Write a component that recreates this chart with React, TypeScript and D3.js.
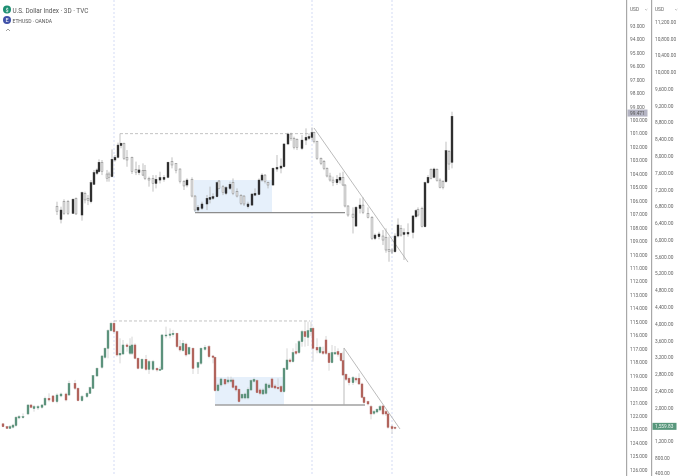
import * as d3 from 'd3';

const WIDTH = 680;
const HEIGHT = 476;

// U.S. Dollar Index, 3D candles (the scale is inverted on the chart)
const usdDays = [
  0, 4, 7, 11, 16, 19, 25, 28, 31, 34,
  37, 40, 42, 45, 50, 52, 55, 58, 61, 64,
  67, 70, 75, 79, 82, 86, 88, 92, 96, 99,
  103, 107, 111, 115, 119, 123, 127, 130, 135, 138,
  141, 145, 150, 153, 156, 160, 162, 166, 169, 173,
  176, 180, 184, 187, 191, 195, 198, 202, 205, 208,
  211, 216, 220, 224, 227, 231, 234, 237, 240, 245,
  249, 252, 255, 257, 260, 264, 267, 270, 273, 276,
  280, 283, 286, 288, 291, 296, 299, 303, 306, 311,
  315, 318, 322, 326, 329, 332, 335, 338, 341, 344,
  347, 351, 356, 359, 361, 365, 368, 371, 374, 377,
  380, 383, 386, 389, 392, 395,
];
const usdOpen = [
  106.43, 107.37, 106.06, 106.06, 106.93, 105.81, 107.05, 105.44, 105.81, 106.06,
  104.77, 103.95, 103.83, 103.13, 104.0, 104.0, 104.2, 102.96, 102.76, 101.89,
  101.72, 102.76, 102.76, 103.65, 103.9, 103.75, 103.75, 104.32, 104.32, 104.7,
  104.45, 104.4, 104.25, 103.08, 103.21, 103.63, 104.57, 104.82, 104.4, 105.64,
  106.68, 106.55, 106.23, 105.88, 105.81, 105.69, 104.52, 104.95, 105.44, 105.07,
  104.62, 105.32, 105.59, 105.64, 106.43, 106.31, 105.57, 105.52, 104.45, 104.08,
  104.65, 104.82, 103.63, 103.56, 103.46, 101.77, 101.03, 101.35, 101.43, 102.1,
  101.48, 101.35, 101.28, 100.93, 101.6, 102.84, 103.09, 103.58, 104.15, 104.45,
  104.65, 104.45, 104.25, 104.82, 106.38, 106.98, 107.87, 106.56, 106.31, 106.93,
  107.23, 108.79, 108.66, 108.61, 108.71, 109.6, 109.65, 109.78, 108.61, 108.04,
  108.49, 108.46, 108.34, 107.17, 106.63, 106.55, 107.92, 104.65, 103.65, 104.25,
  103.65, 104.45, 104.57, 104.57, 102.34, 103.13,
];
const usdClose = [
  106.8, 106.68, 106.93, 106.93, 105.88, 106.97, 105.39, 105.93, 105.98, 104.65,
  103.9, 103.7, 103.13, 103.83, 104.32, 104.25, 102.91, 102.76, 101.85, 101.72,
  102.84, 102.96, 103.83, 103.9, 103.7, 104.08, 104.32, 104.45, 104.7, 104.4,
  104.27, 104.25, 103.13, 103.33, 103.75, 104.57, 104.89, 104.45, 105.64, 106.68,
  106.48, 106.23, 105.81, 105.74, 105.69, 104.65, 105.07, 105.39, 105.02, 104.77,
  105.44, 105.64, 106.19, 106.23, 106.23, 105.49, 105.44, 104.45, 104.08, 104.57,
  104.82, 103.58, 103.51, 103.41, 101.77, 101.03, 101.35, 102.02, 102.02, 101.48,
  101.28, 101.23, 100.93, 101.6, 102.84, 103.21, 103.58, 104.15, 104.45, 104.65,
  104.4, 104.25, 104.82, 106.38, 107.05, 107.23, 106.48, 106.31, 106.88, 107.23,
  108.79, 108.54, 108.46, 108.91, 109.65, 109.78, 109.8, 108.61, 107.79, 108.54,
  108.36, 108.34, 107.12, 106.73, 107.05, 107.92, 104.65, 104.25, 104.32, 103.63,
  104.5, 104.99, 104.99, 102.27, 103.26, 99.71,
];
const usdHigh = [
  107.05, 107.67, 107.05, 107.05, 106.97, 107.05, 107.47, 106.18, 106.31, 106.18,
  104.82, 104.08, 103.9, 104.08, 104.57, 104.57, 104.25, 103.08, 102.84, 102.09,
  102.96, 103.46, 104.0, 104.08, 104.08, 104.15, 104.45, 104.94, 105.31, 105.07,
  104.7, 104.57, 104.32, 103.58, 103.95, 104.7, 105.19, 104.99, 105.74, 106.8,
  106.8, 106.68, 106.68, 106.18, 105.93, 105.74, 105.14, 105.57, 105.57, 105.19,
  105.57, 105.74, 106.31, 106.38, 106.56, 106.38, 105.64, 105.57, 104.57, 104.7,
  105.07, 104.87, 103.83, 103.95, 103.51, 101.85, 101.53, 102.17, 102.22, 102.22,
  101.85, 101.48, 101.48, 101.72, 102.96, 103.34, 103.71, 104.25, 104.57, 104.9,
  104.82, 104.7, 104.9, 106.48, 107.18, 108.42, 107.92, 106.93, 106.98, 107.3,
  108.91, 108.91, 108.86, 109.28, 109.85, 110.52, 109.95, 109.85, 108.71, 108.66,
  110.39, 108.66, 108.78, 107.3, 107.17, 107.97, 107.97, 104.74, 104.4, 104.32,
  104.57, 105.07, 105.14, 104.65, 103.7, 103.58,
];
const usdLow = [
  106.06, 106.43, 105.88, 105.93, 105.81, 105.74, 105.31, 105.31, 105.56, 104.45,
  103.7, 103.58, 102.91, 102.96, 103.7, 103.83, 102.17, 102.59, 101.67, 101.67,
  101.67, 102.22, 102.71, 103.08, 103.33, 103.21, 103.33, 104.2, 104.08, 104.08,
  103.83, 104.08, 103.08, 102.76, 103.21, 103.58, 104.45, 104.32, 104.25, 105.56,
  106.31, 106.06, 105.56, 104.94, 105.44, 104.57, 104.45, 104.82, 104.9, 104.57,
  104.33, 105.07, 105.49, 105.57, 106.06, 105.44, 105.07, 104.33, 103.95, 104.0,
  104.57, 103.51, 102.59, 102.84, 101.72, 100.93, 100.93, 101.23, 101.35, 101.11,
  100.61, 100.98, 100.54, 100.86, 101.53, 102.77, 102.96, 103.51, 103.91, 104.2,
  104.08, 103.91, 103.83, 104.75, 106.31, 106.48, 106.38, 105.81, 105.74, 106.48,
  107.13, 108.42, 108.29, 108.17, 108.04, 108.66, 109.53, 108.41, 107.3, 107.79,
  108.04, 107.67, 107.05, 106.63, 106.48, 106.43, 104.57, 104.08, 103.58, 103.53,
  103.58, 104.32, 104.45, 101.6, 102.22, 99.37,
];

// ETHUSD, 3D candles
const ethDays = [
  0, 4, 7, 10, 13, 16, 20, 25, 28, 31,
  35, 39, 42, 46, 50, 54, 58, 63, 66, 72,
  75, 79, 84, 87, 90, 94, 99, 102, 105, 108,
  111, 114, 117, 120, 124, 127, 129, 132, 135, 139,
  143, 146, 150, 154, 157, 159, 163, 167, 170, 174,
  177, 180, 183, 186, 190, 195, 198, 202, 206, 210,
  212, 215, 218, 222, 225, 228, 230, 233, 236, 239,
  242, 245, 248, 251, 254, 257, 260, 263, 266, 269,
  272, 275, 278, 281, 284, 287, 290, 293, 296, 299,
  302, 305, 308, 310, 314, 317, 320, 323, 326, 329,
  332, 335, 338, 340, 343, 346, 350, 353, 356, 359,
  361, 365, 368, 371, 374, 377, 380, 383, 385, 389,
  392,
];
const ethOpen = [
  1620, 1550, 1510, 1540, 1580, 1760, 1775, 1855, 2069, 1982,
  1998, 2013, 2069, 2228, 2284, 2149, 2284, 2331, 2307, 2586,
  2466, 2172, 2268, 2347, 2466, 2760, 2967, 3205, 3420, 3841,
  4016, 3817, 3261, 3285, 3500, 3301, 3301, 3500, 3182, 2943,
  3158, 2919, 2919, 2943, 2904, 2919, 3714, 3730, 3746, 3778,
  3460, 3365, 3523, 3285, 3420, 2967, 3062, 3396, 3460, 3237,
  3205, 2411, 2546, 2681, 2617, 2633, 2665, 2522, 2443, 2236,
  2236, 2236, 2427, 2633, 2649, 2427, 2331, 2347, 2482, 2689,
  2522, 2490, 2506, 2387, 2919, 3142, 3102, 3341, 3317, 3579,
  3817, 3682, 3817, 3897, 3444, 3317, 3341, 3619, 3301, 3078,
  3285, 3341, 3301, 3126, 2800, 2705, 2601, 2705, 2705, 2570,
  2252, 2149, 2029, 1870, 1902, 1950, 2045, 1910, 1855, 1552,
  1537,
];
const ethClose = [
  1550, 1510, 1550, 1590, 1775, 1790, 1790, 2069, 2013, 2029,
  2029, 2069, 2228, 2188, 2149, 2307, 2331, 2188, 2586, 2466,
  2172, 2268, 2347, 2482, 2768, 2943, 3237, 3420, 3841, 4016,
  3817, 3261, 3301, 3500, 3460, 3476, 3500, 3182, 2943, 3158,
  2919, 3102, 3102, 2904, 2919, 3738, 3738, 3762, 3778, 3460,
  3380, 3539, 3261, 3436, 2943, 3078, 3420, 3444, 3221, 3205,
  2411, 2546, 2689, 2570, 2665, 2665, 2490, 2427, 2149, 2323,
  2331, 2443, 2649, 2681, 2363, 2347, 2427, 2570, 2546, 2490,
  2474, 2458, 2387, 2943, 3142, 3102, 3317, 3301, 3579, 3817,
  3698, 3841, 3897, 3420, 3380, 3444, 3301, 3301, 3078, 3317,
  3317, 3277, 3126, 2784, 2681, 2601, 2721, 2665, 2570, 2252,
  2125, 2093, 1855, 1910, 1966, 2029, 1855, 1855, 1537, 1505,
  1521,
];
const ethHigh = [
  1630, 1570, 1590, 1620, 1807, 1830, 1870, 2085, 2093, 2069,
  2069, 2093, 2268, 2347, 2307, 2347, 2363, 2363, 2649, 2665,
  2490, 2307, 2387, 2506, 2784, 2967, 3261, 3444, 3873, 4056,
  4072, 3841, 3659, 3619, 3539, 3659, 3698, 3539, 3205, 3182,
  3261, 3142, 3142, 2967, 2983, 3762, 3937, 3897, 3857, 3794,
  3619, 3619, 3555, 3460, 3444, 3102, 3444, 3500, 3500, 3261,
  3221, 2586, 2721, 2705, 2745, 2745, 2705, 2546, 2466, 2347,
  2363, 2490, 2681, 2721, 2681, 2466, 2466, 2601, 2586, 2721,
  2570, 2705, 2546, 2967, 3420, 3182, 3420, 3539, 3619, 3857,
  4072, 4056, 4056, 3937, 3659, 3476, 3460, 3714, 3341, 3500,
  3476, 3420, 3317, 3341, 2824, 2745, 2760, 2745, 2824, 2601,
  2284, 2172, 2069, 1950, 1990, 2069, 2069, 1950, 1886, 1592,
  1560,
];
const ethLow = [
  1540, 1500, 1500, 1510, 1550, 1730, 1745, 1830, 1990, 1910,
  1950, 1982, 2045, 2149, 2125, 2109, 2252, 2156, 2284, 2427,
  2156, 2149, 2236, 2331, 2450, 2745, 2935, 3174, 3182, 3817,
  3778, 3221, 3062, 3261, 3341, 3261, 3261, 3158, 2919, 2919,
  2888, 2808, 2888, 2864, 2888, 2904, 3659, 3659, 3698, 3420,
  3341, 3341, 3221, 3261, 2808, 2808, 3023, 3364, 3182, 3062,
  2387, 2387, 2506, 2538, 2570, 2586, 2458, 2387, 2125, 2204,
  2204, 2204, 2403, 2601, 2347, 2300, 2307, 2315, 2443, 2466,
  2443, 2427, 2363, 2363, 2904, 3062, 3078, 3261, 3285, 3460,
  3460, 3476, 3714, 3102, 3301, 3285, 3261, 3261, 2888, 3062,
  3261, 3221, 3102, 2760, 2641, 2538, 2546, 2601, 2546, 2228,
  2093, 2061, 1727, 1831, 1870, 1918, 1823, 1807, 1505, 1378,
  1489,
];

const usdTicks = d3.range(93, 127);
const ethTicks = d3.range(11200, 399, -400).filter((v) => v !== 1600);
const markerDays = [57, 255, 335];

const usdLast = 99.471;
const ethLast = 1559.83;

const xUsd = d3.scaleLinear().domain([0, 395]).range([57, 452]);
const xEth = d3.scaleLinear().domain([0, 393]).range([3, 396]);
const yUsd = d3.scaleLinear().domain([93, 126]).range([26, 470]);
const yEth = d3.scaleLinear().domain([400, 11200]).range([475, 22]);

type Scale = d3.ScaleLinear<number, number>;

const Candles = ({ days, open, high, low, close, x, y, bodyWidth, bodyFill, bodyStroke, wick }: {
  days: number[]; open: number[]; high: number[]; low: number[]; close: number[];
  x: Scale; y: Scale; bodyWidth: number;
  bodyFill: (up: boolean) => string;
  bodyStroke: (up: boolean) => string;
  wick: string;
}) => (
  <g>
    {days.map((d, i) => {
      const up = close[i] > open[i];
      const top = Math.min(y(open[i]), y(close[i]));
      const bot = Math.max(y(open[i]), y(close[i]));
      return (
        <g key={i}>
          <line x1={x(d)} x2={x(d)} y1={y(high[i])} y2={y(low[i])} stroke={wick} strokeWidth={0.8} />
          <rect x={x(d) - bodyWidth / 2} width={bodyWidth} y={top} height={Math.max(bot - top, 1)}
            fill={bodyFill(up)} stroke={bodyStroke(up)} strokeWidth={0.45} />
        </g>
      );
    })}
  </g>
);

export default function App() {
  const font = 'Roboto, "Liberation Sans", sans-serif';
  return (
    <svg width={WIDTH} height={HEIGHT} viewBox={`0 0 ${WIDTH} ${HEIGHT}`}
      style={{ position: 'absolute', left: 0, top: 0, background: '#fff' }} fontFamily={font}>
      <defs>
        <filter id="soft" x="-2%" y="-2%" width="104%" height="104%">
          <feGaussianBlur stdDeviation="0.35" />
        </filter>
      </defs>

      <g filter="url(#soft)">
        {/* range boxes */}
        <rect x={xUsd(137)} width={xUsd(215) - xUsd(137)} y={yUsd(104.45)} height={yUsd(106.83) - yUsd(104.45)} fill="#e6f0fb" />
        <rect x={xEth(212)} width={xEth(281) - xEth(212)} y={yEth(2736)} height={yEth(2069) - yEth(2736)} fill="#e6f0fb" />

        {/* session markers */}
        {markerDays.map((d) => (
          <line key={d} x1={xUsd(d)} x2={xUsd(d)} y1={0} y2={HEIGHT} stroke="#c0ccf0" strokeWidth={0.7} strokeDasharray="2 2" />
        ))}

        {/* top chart drawings */}
        <line x1={xUsd(63)} x2={xUsd(253)} y1={yUsd(101)} y2={yUsd(101)} stroke="#b4b4b4" strokeWidth={0.8} strokeDasharray="3 2" />
        <line x1={xUsd(63)} x2={xUsd(63)} y1={yUsd(101)} y2={yUsd(101.7)} stroke="#b4b4b4" strokeWidth={0.8} />
        <line x1={xUsd(138)} x2={xUsd(288)} y1={yUsd(106.87)} y2={yUsd(106.87)} stroke="#8c8c8c" strokeWidth={1.1} />
        <line x1={xUsd(257)} x2={xUsd(351)} y1={yUsd(100.58)} y2={yUsd(110.55)} stroke="#aaa" strokeWidth={0.8} />

        {/* bottom chart drawings */}
        <line x1={xEth(111)} x2={xEth(307)} y1={yEth(4072)} y2={yEth(4072)} stroke="#b4b4b4" strokeWidth={0.8} strokeDasharray="3 2" />
        <line x1={xEth(212)} x2={xEth(362)} y1={yEth(2069)} y2={yEth(2069)} stroke="#a0a0a0" strokeWidth={1.3} />
        <line x1={xEth(341)} x2={xEth(341)} y1={yEth(3428)} y2={yEth(2069)} stroke="#aaa" strokeWidth={0.8} />
        <line x1={xEth(341)} x2={xEth(397)} y1={yEth(3428)} y2={yEth(1497)} stroke="#aaa" strokeWidth={0.8} />

        <Candles days={usdDays} open={usdOpen} high={usdHigh} low={usdLow} close={usdClose} x={xUsd} y={yUsd} bodyWidth={1.9}
          bodyFill={(up) => (up ? '#f0f0f0' : '#2a2a2a')} bodyStroke={(up) => (up ? '#7c7c7c' : '#2a2a2a')} wick="#aeaeae" />
        <Candles days={ethDays} open={ethOpen} high={ethHigh} low={ethLow} close={ethClose} x={xEth} y={yEth} bodyWidth={1.9}
          bodyFill={(up) => (up ? '#5a9079' : '#b0605a')} bodyStroke={(up) => (up ? '#5a9079' : '#b0605a')} wick="#cccccc" />

        {/* price axes */}
        <rect x={626} y={0} width={1.2} height={HEIGHT} fill="#a8a8a8" />
        <rect x={651} y={0} width={1.2} height={HEIGHT} fill="#a8a8a8" />

        <text x={630} y={11} fontSize={4.8} fill="#666">USD</text>
        <text x={655} y={11} fontSize={4.8} fill="#666">USD</text>
        <path d="M645 9l1.2 1.2l1.2 -1.2M675 9l1.2 1.2l1.2 -1.2" fill="none" stroke="#888" strokeWidth={0.5} />

        {usdTicks.map((v) => (
          <text key={v} x={630} y={yUsd(v) + 1.8} fontSize={4.8} fill="#666">{d3.format('.3f')(v)}</text>
        ))}
        {ethTicks.map((v) => (
          <text key={v} x={655} y={Math.min(yEth(v) + 1.8, 475)} fontSize={4.8} fill="#666">{d3.format(',.2f')(v)}</text>
        ))}

        <rect x={627.5} y={yUsd(usdLast) - 3.5} width={20} height={7} fill="#b5b5c4" />
        <text x={630} y={yUsd(usdLast) + 1.8} fontSize={4.8} fill="#555">{d3.format('.3f')(usdLast)}</text>
        <rect x={652.5} y={yEth(ethLast) - 3.5} width={24} height={7} fill="#58977c" />
        <text x={655} y={yEth(ethLast) + 1.8} fontSize={4.8} fill="#eaf4ef">{d3.format(',.2f')(ethLast)}</text>

        {/* legend */}
        <circle cx={7} cy={9.5} r={4} fill="#1e8f72" />
        <text x={7} y={11.5} fontSize={5.5} fill="#fff" textAnchor="middle">$</text>
        <text x={12.5} y={12.5} fontSize={6.4} fill="#555">U.S. Dollar Index · 3D · TVC</text>
        <circle cx={7} cy={20} r={4} fill="#3f51a8" />
        <text x={7} y={22} fontSize={5.5} fill="#fff" textAnchor="middle">E</text>
        <text x={12.5} y={22.5} fontSize={5} fill="#555">ETHUSD · OANDA</text>
        <path d="M6 31l2 -2l2 2" fill="none" stroke="#777" strokeWidth={0.7} />
      </g>
    </svg>
  );
}
